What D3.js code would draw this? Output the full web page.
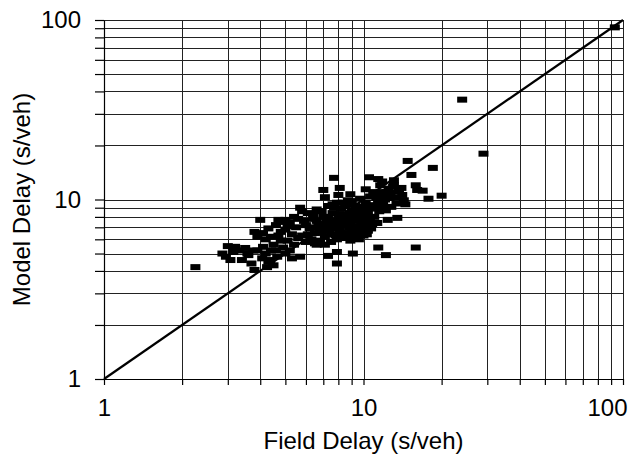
<!DOCTYPE html>
<html>
<head>
<meta charset="utf-8">
<script src="https://cdn.jsdelivr.net/npm/d3@7"></script>
<style>
  body { margin: 0; background: #fff; }
  text { font-family: Arial, "Liberation Sans", sans-serif; fill: #000; }
</style>
</head>
<body>
<div id="chart"></div>
<script>
// Data (s/veh)
const fieldDelay = [
  2.25, 93, 24, 29, 18.5, 20, 14.8, 15.3, 10.5, 11.4, 13.1, 15.9, 16.1, 11.6, 13.1, 10.9, 12.7, 14.1, 16.9, 17.8,
  11.4, 14.5, 12.2, 13.5, 12.4, 11.4, 12.2, 15.9, 7.7, 7.0, 8.1, 8.9, 7.1, 8.0, 5.7, 4.8, 7.9, 9.1, 7.3, 7.9,
  5.7, 4.65, 6.6, 4.5, 4.0, 3.8, 4.1, 3.0, 3.2, 2.86, 3.07, 3.57, 3.7, 4.07, 3.8, 4.1, 4.4, 3.5, 3.76, 4.37,
  4.25, 5.3,
  4.3, 4.5, 4.6, 4.7, 4.9, 5.0, 5.1, 5.2, 5.3, 5.4, 5.5, 5.6, 4.4, 4.8, 5.2,
  5.8, 5.9, 6.0, 6.1, 6.2, 6.3, 6.4, 6.5, 6.6, 6.7, 6.8, 6.9, 7.0, 7.1, 7.2, 7.3, 7.4, 7.5, 7.6, 7.7,
  7.8, 7.9, 8.0, 8.1, 8.2, 8.3, 8.4, 8.5, 8.6, 8.7, 8.8, 8.9, 9.0, 9.1, 9.2, 9.3, 9.4, 9.5, 9.6, 9.7,
  9.8, 9.9, 10.0, 10.1, 10.2, 10.3, 10.4, 10.5, 10.6, 10.7, 10.8, 11.0, 11.2, 11.3, 11.5, 11.7, 11.9, 12.1, 12.5, 12.8,
  13.3, 13.7, 14.3, 8.3, 9.0, 7.6, 5.0, 5.4,
  5.6, 5.8, 6.0, 6.1, 6.3, 6.4, 6.5, 6.6, 6.8, 6.9, 7.0, 7.1, 7.2, 7.3, 7.4, 7.5, 7.6, 7.7, 7.8, 7.9,
  8.0, 8.1, 8.2, 8.3, 8.4, 8.5, 8.6, 8.7, 8.8, 8.9, 9.0, 9.1, 9.2, 9.3, 9.4, 9.5, 9.6, 9.7, 9.8, 9.9,
  10.0, 10.1, 10.2, 10.3, 10.4, 10.5, 10.6, 10.8, 11.0, 11.1, 11.4, 11.6, 12.0, 12.3, 12.6, 13.0, 13.4, 14.0, 10.2, 11.8,
  3.3, 3.4, 3.6, 3.9, 4.2, 4.3, 4.6, 4.8, 5.0, 4.7, 5.1, 3.9, 4.2, 2.95, 3.15
];
const modelDelay = [
  4.2, 91, 36, 18, 15, 10.5, 16.4, 13.7, 13.3, 13.0, 12.8, 12.0, 11.3, 12.0, 12.0, 11.0, 10.9, 10.6, 11.2, 10.1,
  9.9, 9.4, 8.7, 7.9, 7.7, 5.4, 4.9, 5.4, 13.2, 11.3, 11.6, 10.7, 10.3, 10.6, 9.0, 7.5, 5.1, 5.0, 4.85, 4.4,
  4.8, 4.8, 5.6, 4.3, 7.7, 6.6, 6.5, 5.5, 5.45, 5.0, 4.6, 5.0, 4.4, 4.7, 4.05, 5.45, 6.2, 5.37, 5.2, 4.6,
  4.2, 4.7,
  6.9, 5.6, 7.2, 6.3, 5.4, 6.8, 5.9, 7.4, 6.4, 5.6, 7.0, 6.1, 5.2, 5.9, 5.2,
  6.3, 7.6, 5.8, 8.4, 6.9, 6.0, 7.8, 6.5, 8.8, 7.2, 5.9, 6.6, 8.0, 6.2, 7.5, 9.2, 6.8, 5.8, 8.4, 7.1,
  6.3, 9.6, 7.8, 6.7, 8.9, 6.1, 7.4, 8.2, 6.5, 9.9, 7.0, 5.9, 8.6, 7.6, 6.4, 9.2, 7.1, 8.0, 6.0, 10.1,
  7.5, 6.8, 8.8, 7.2, 9.6, 6.4, 8.3, 7.7, 10.4, 6.9, 9.0, 8.0, 10.2, 7.4, 8.6, 11.0, 9.4, 10.0, 11.5, 9.1,
  10.3, 11.1, 9.9, 9.6, 9.8, 9.4, 7.7, 8.0,
  7.8, 8.6, 7.2, 6.4, 7.0, 8.3, 5.7, 7.6, 6.8, 8.6, 7.3, 5.6, 6.7, 8.0, 7.6, 6.4, 7.0, 9.0, 7.4, 6.0,
  6.9, 8.3, 7.2, 7.8, 6.5, 9.2, 7.5, 8.0, 6.2, 7.3, 9.4, 6.7, 8.2, 7.0, 8.7, 6.5, 7.8, 8.4, 9.1, 7.2,
  6.3, 8.1, 7.5, 8.8, 6.7, 9.3, 8.0, 7.3, 10.8, 8.9, 9.5, 10.5, 9.0, 11.0, 10.2, 11.8, 9.5, 11.6, 11.4, 12.6,
  5.2, 4.6, 4.9, 5.2, 5.0, 4.5, 5.2, 6.6, 5.0, 7.7, 7.1, 6.2, 6.0, 4.8, 5.1
];
const majorTicks = [1, 10, 100];

// Chart dimensions
const width = 641;
const height = 454;
const margin = { top: 20, right: 18, bottom: 75, left: 104 };
const innerW = width - margin.left - margin.right;
const innerH = height - margin.top - margin.bottom;

const svg = d3.select('#chart')
  .append('svg')
  .attr('width', width)
  .attr('height', height);

const g = svg.append('g')
  .attr('transform', `translate(${margin.left},${margin.top})`);

// Scales
const xScale = d3.scaleLog().domain([1, 100]).range([0, innerW]);
const yScale = d3.scaleLog().domain([1, 100]).range([innerH, 0]);

const xTicks = xScale.ticks();
const yTicks = yScale.ticks();

// Grid lines
g.append('g')
  .selectAll('line')
  .data(xTicks)
  .join('line')
  .attr('x1', d => Math.round(xScale(d)) + 0.5)
  .attr('x2', d => Math.round(xScale(d)) + 0.5)
  .attr('y1', 0)
  .attr('y2', innerH)
  .attr('stroke', '#222')
  .attr('stroke-width', 1);

g.append('g')
  .selectAll('line')
  .data(yTicks)
  .join('line')
  .attr('x1', 0)
  .attr('x2', innerW)
  .attr('y1', d => Math.round(yScale(d)) + 0.5)
  .attr('y2', d => Math.round(yScale(d)) + 0.5)
  .attr('stroke', '#222')
  .attr('stroke-width', 1);

// Axes
const xAxis = g.append('g')
  .attr('transform', `translate(0,${innerH})`)
  .call(d3.axisBottom(xScale)
    .tickValues(xTicks)
    .tickSize(6)
    .tickSizeOuter(0)
    .tickPadding(14)
    .tickFormat(d => majorTicks.includes(d) ? d : ''));

const yAxis = g.append('g')
  .call(d3.axisLeft(yScale)
    .tickValues(yTicks)
    .tickSize(9)
    .tickSizeOuter(0)
    .tickPadding(14)
    .tickFormat(d => majorTicks.includes(d) ? d : ''));

[xAxis, yAxis].forEach(a => {
  a.selectAll('path, line').attr('stroke', '#000').attr('stroke-width', 1.2);
  a.selectAll('text').style('font-size', '24px').style('font-family', 'Arial, "Liberation Sans", sans-serif');
});

// keep the last x label inside the page
xAxis.selectAll('.tick text')
  .filter(d => d === 100)
  .attr('text-anchor', 'end')
  .attr('x', 4);

// 1:1 line
g.append('line')
  .attr('x1', xScale(1))
  .attr('y1', yScale(1))
  .attr('x2', xScale(100))
  .attr('y2', yScale(100))
  .attr('stroke', '#000')
  .attr('stroke-width', 2.2);

// Points
const points = fieldDelay.map((f, i) => ({ field: f, model: modelDelay[i] }));
g.append('g')
  .selectAll('rect')
  .data(points)
  .join('rect')
  .attr('x', d => xScale(d.field) - 5)
  .attr('y', d => yScale(d.model) - 3)
  .attr('width', 10)
  .attr('height', 6)
  .attr('fill', '#000');

// Axis titles
svg.append('text')
  .attr('x', margin.left + innerW / 2)
  .attr('y', 449)
  .attr('text-anchor', 'middle')
  .style('font-size', '24px')
  .text('Field Delay (s/veh)');

svg.append('text')
  .attr('transform', `translate(30,${margin.top + innerH / 2}) rotate(-90)`)
  .attr('text-anchor', 'middle')
  .style('font-size', '24px')
  .text('Model Delay (s/veh)');
</script>
</body>
</html>
